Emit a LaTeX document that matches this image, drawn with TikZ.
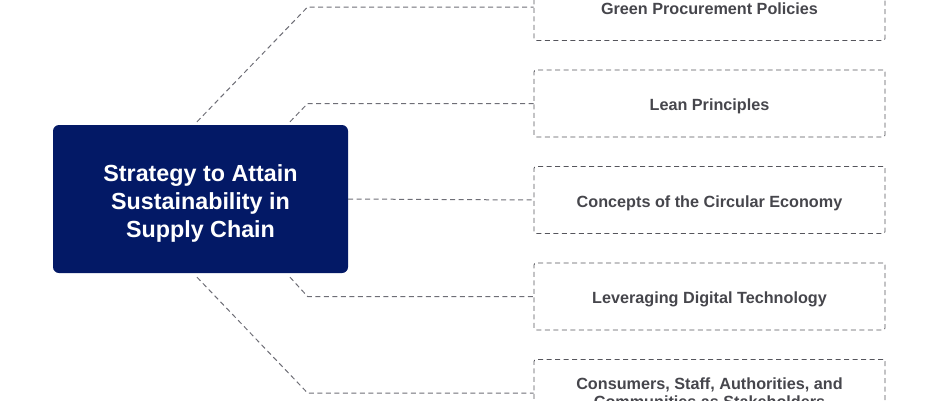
\documentclass[tikz,border=0pt]{standalone}
\usepackage{fontspec}
\setmainfont{Liberation Sans}
\usetikzlibrary{positioning}

\definecolor{navy}{RGB}{3,25,102}
\definecolor{linkgray}{RGB}{110,110,118}
\definecolor{boxgray}{RGB}{85,85,92}
\definecolor{textgray}{RGB}{70,70,76}

\begin{document}
\begin{tikzpicture}[x=1pt,y=-1pt,node distance=96.5pt,on grid,
 hub/.style={fill=navy,rounded corners=6pt,minimum width=295pt,minimum height=148pt,
  text=white,align=center,text height=81pt,text depth=5pt,
  font=\fontsize{23.3}{28}\selectfont\bfseries},
 item/.style={draw=boxgray,line width=0.8pt,dash pattern=on 5pt off 3.5pt,rounded corners=2pt,
  minimum width=351pt,minimum height=67pt,
  text=textgray,align=center,font=\fontsize{16.2}{18}\selectfont\bfseries},
 oneline/.style={text height=14pt,text depth=0pt},
 link/.style={draw=linkgray,dash pattern=on 5pt off 3.5pt,line width=1pt}]
 \useasboundingbox (0,0) rectangle (940,400);
 \begin{scope}
 \clip (0,0) rectangle (940,400);
 \node[hub] (S) at (200.5,199) {Strategy to Attain\\Sustainability in\\Supply Chain};
 \node[item,oneline] (B3) at (709.5,200) {Concepts of the Circular Economy};
 \node[item,oneline] (B2) [above=of B3] {Lean Principles};
 \node[item,oneline] (B1) [above=of B2] {Green Procurement Policies};
 \node[item,oneline] (B4) [below=of B3] {Leveraging Digital Technology};
 \node[item] (B5) [below=of B4] {Consumers, Staff, Authorities, and\\Communities as Stakeholders};

 % start and bend points of the links
 \coordinate (s1) at ([shift={(-3.5,-3)}]S.north);
 \coordinate (s2) at ([shift={(89.5,-3)}]S.north);
 \coordinate (s4) at ([shift={(89.5,4)}]S.south);
 \coordinate (s5) at ([shift={(-3.5,4)}]S.south);
 \path (B1.west) ++(-226,0) coordinate (j1);
 \path (B2.west) ++(-226,0) coordinate (j2);
 \path (B4.west) ++(-226,0) coordinate (j4);
 \path (B5.west) ++(-226,0) coordinate (j5);

 \path[link]
 (s1) -- (j1) -- (B1.west)
 (s2) -- (j2) -- (B2.west)
 (S.east) -- (B3.west)
 (s4) -- (j4) -- (B4.west)
 (s5) -- (j5) -- (B5.west);
 \end{scope}
\end{tikzpicture}
\end{document}
